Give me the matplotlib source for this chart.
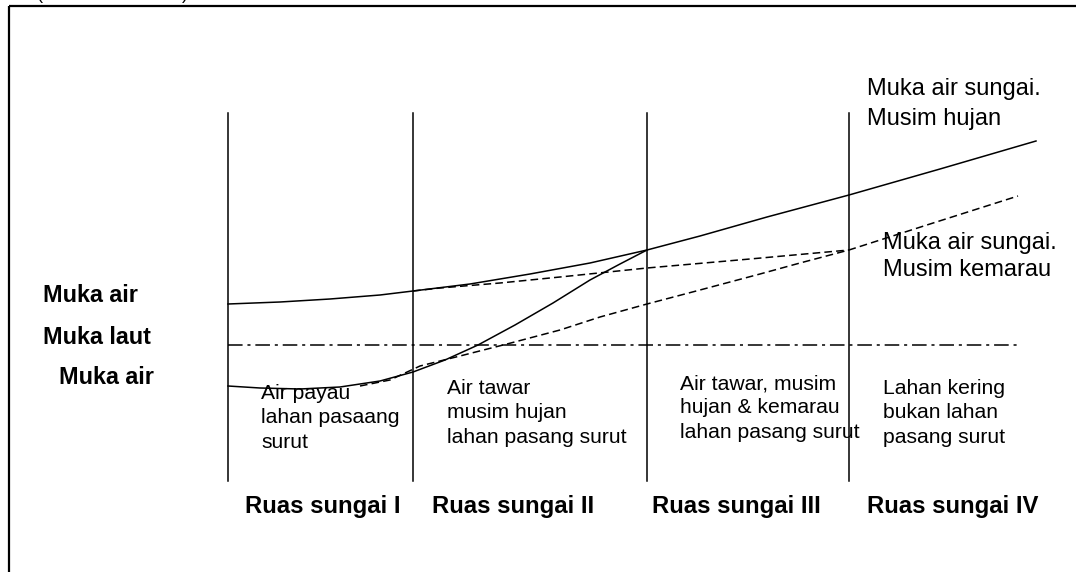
import matplotlib
matplotlib.use("Agg")
import matplotlib.pyplot as plt

plt.rcParams['font.family'] = ['Liberation Sans', 'DejaVu Sans']
plt.rcParams['lines.scale_dashes'] = False

# sketch is drawn in picture units: x to the right, y downwards (0 at top)
# section boundaries
batas_x = [228, 413, 647, 849]
batas_y = [113, 481]

# water level, rainy season (upper solid)
hujan_x = [228, 280, 330, 380, 413, 470, 530, 590, 647, 700, 767, 849, 940, 1036]
hujan_y = [304, 302, 299, 295, 291, 284, 274, 263, 250, 236, 217, 195, 169, 141]

# low water level (lower solid)
surut_x = [228, 260, 300, 340, 380, 413, 445, 478, 515, 553, 590, 620, 647]
surut_y = [386, 388, 389, 387, 381, 372, 360, 345, 325, 303, 280, 264, 250]

# dry season, upper dashed
kemarau1_x = [413, 440, 500, 560, 647, 750, 849]
kemarau1_y = [291, 288, 283, 277, 268, 259, 250]

# dry season, lower dashed
kemarau2_x = [360, 390, 420, 460, 507, 560, 600, 647, 700, 760, 800, 849, 930, 1018]
kemarau2_y = [386, 380, 366, 356, 344, 330, 317, 304, 290, 274, 263, 250, 224, 196]

# sea level
laut_x = [228, 1020]
laut_y = [345, 345]

ruas_labels = ["Ruas sungai I", "Ruas sungai II", "Ruas sungai III", "Ruas sungai IV"]
zona_labels = ["Air payau\nlahan pasaang\nsurut",
               "Air tawar\nmusim hujan\nlahan pasang surut",
               "Air tawar, musim\nhujan & kemarau\nlahan pasang surut",
               "Lahan kering\nbukan lahan\npasang surut"]
muka_labels = ["Muka air", "Muka laut", "Muka air"]

fig = plt.figure(figsize=(10.76, 5.72), dpi=100)
ax = fig.add_axes([0, 0, 1, 1])
ax.set_xlim(0, 1076)
ax.set_ylim(572, 0)
ax.axis('off')

# frame (top and left edges)
ax.plot([8.5, 1076], [5.5, 5.5], color='black', lw=1.6, solid_capstyle='butt')
ax.plot([8.5, 8.5], [5.5, 572], color='black', lw=1.6, solid_capstyle='butt')
ax.text(37, -1, "(", fontsize=13, ha='left', va='baseline')
ax.text(182, -1, ")", fontsize=13, ha='left', va='baseline')

for bx in batas_x:
    ax.plot([bx, bx], batas_y, color='black', lw=1.1)

ax.plot(hujan_x, hujan_y, color='black', lw=1.1)
ax.plot(surut_x, surut_y, color='black', lw=1.1)
ax.plot(kemarau1_x, kemarau1_y, color='black', lw=1.1, dashes=(5.5, 3.0))
ax.plot(kemarau2_x, kemarau2_y, color='black', lw=1.1, dashes=(5.5, 3.0))
ax.plot(laut_x, laut_y, color='black', lw=1.1, dashes=(10.5, 3.5, 2.2, 3.5))

# left labels
muka_pos = [(43, 296), (43, 338), (59, 378)]
for (tx, ty), lab in zip(muka_pos, muka_labels):
    ax.text(tx, ty, lab, fontsize=16.8, fontweight='bold', ha='left', va='center')

# section names
ruas_pos = [245, 432, 652, 867]
for tx, lab in zip(ruas_pos, ruas_labels):
    ax.text(tx, 506, lab, fontsize=17.2, fontweight='bold', ha='left', va='center')

# zone descriptions
zona_pos = [(261, 384), (447, 379), (680, 374), (883, 379)]
for (tx, ty), lab in zip(zona_pos, zona_labels):
    ax.text(tx, ty, lab, fontsize=15.2, ha='left', va='top', linespacing=1.36)

ax.text(867, 78, "Muka air sungai.\nMusim hujan", fontsize=17,
        ha='left', va='top', linespacing=1.5)
ax.text(883, 232, "Muka air sungai.\nMusim kemarau", fontsize=17,
        ha='left', va='top', linespacing=1.3)

fig.savefig("out.png", dpi=100)
